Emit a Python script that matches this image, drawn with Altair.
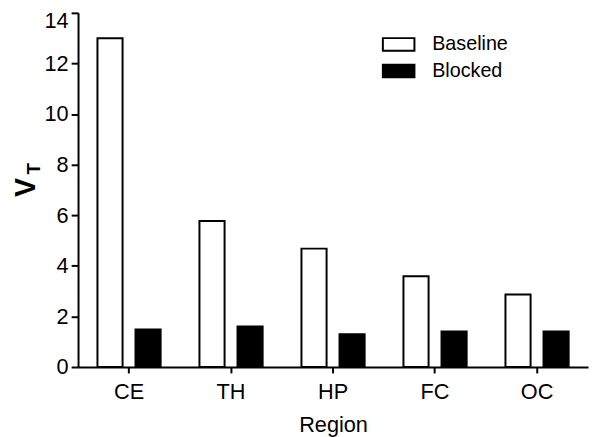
import altair as alt
import pandas as pd

regions = ["CE", "TH", "HP", "FC", "OC"]
baseline = [13.0, 5.77, 4.68, 3.59, 2.87]
blocked = [1.48, 1.60, 1.30, 1.40, 1.40]
conditions = ["Baseline", "Blocked"]
y_ticks = [0, 2, 4, 6, 8, 10, 12, 14]

rows = []
for r, b, k in zip(regions, baseline, blocked):
    rows.append({"Region": r, "Condition": "Baseline", "VT": b})
    rows.append({"Region": r, "Condition": "Blocked", "VT": k})
df = pd.DataFrame(rows)

FONT = "Liberation Sans"

bars = alt.Chart(df).mark_bar(stroke="black", strokeWidth=2).encode(
    x=alt.X("Region:N", sort=regions,
            scale=alt.Scale(paddingInner=0, paddingOuter=0),
            axis=alt.Axis(title="Region", labelAngle=0, labelFontSize=22,
                          titleFontSize=22, titleFontWeight="normal",
                          tickSize=6, tickWidth=2, domainWidth=2,
                          labelPadding=9, titlePadding=12)),
    xOffset=alt.XOffset("Condition:N", sort=conditions,
                        scale=alt.Scale(paddingInner=0.34, paddingOuter=0.51)),
    y=alt.Y("VT:Q", scale=alt.Scale(domain=[0, 14], nice=False),
            axis=alt.Axis(title=None, values=y_ticks, labelFontSize=22,
                          tickSize=7, tickWidth=2, domainWidth=2,
                          labelPadding=3, grid=False,
                          labelOffset={"condition": {"test": "datum.value == 14", "value": 8},
                                       "value": 0})),
    fill=alt.Fill("Condition:N", sort=conditions,
                  scale=alt.Scale(domain=conditions, range=["white", "black"]),
                  legend=alt.Legend(title=None, orient="none", legendX=315, legendY=22,
                                    symbolType="M-2,-0.8H2V0.8H-2Z", symbolSize=256,
                                    symbolStrokeColor="black", symbolStrokeWidth=2,
                                    labelFontSize=20, labelOffset=24, rowPadding=5,
                                    padding=0)),
)

title_v = alt.Chart(pd.DataFrame({"t": ["V"]})).mark_text(
    angle=270, fontSize=29, fontWeight="bold", font=FONT, align="center",
    baseline="alphabetic", color="black"
).encode(x=alt.value(-44), y=alt.value(177), text="t:N")

title_t = alt.Chart(pd.DataFrame({"t": ["T"]})).mark_text(
    angle=270, fontSize=19, fontWeight="bold", font=FONT, align="center",
    baseline="alphabetic", color="black"
).encode(x=alt.value(-39), y=alt.value(158), text="t:N")

chart = alt.layer(bars, title_v, title_t).properties(
    width=517, height=359,
    autosize=alt.AutoSizeParams(type="none"),
    padding={"left": 71, "top": 2, "right": 4, "bottom": 68},
).configure_view(stroke=None).configure_axis(
    labelFont=FONT, titleFont=FONT, labelColor="black", titleColor="black",
    domainColor="black", tickColor="black"
).configure_legend(labelFont=FONT, labelColor="black")

chart.save("out.html", embed_options={"renderer": "svg", "actions": False})
